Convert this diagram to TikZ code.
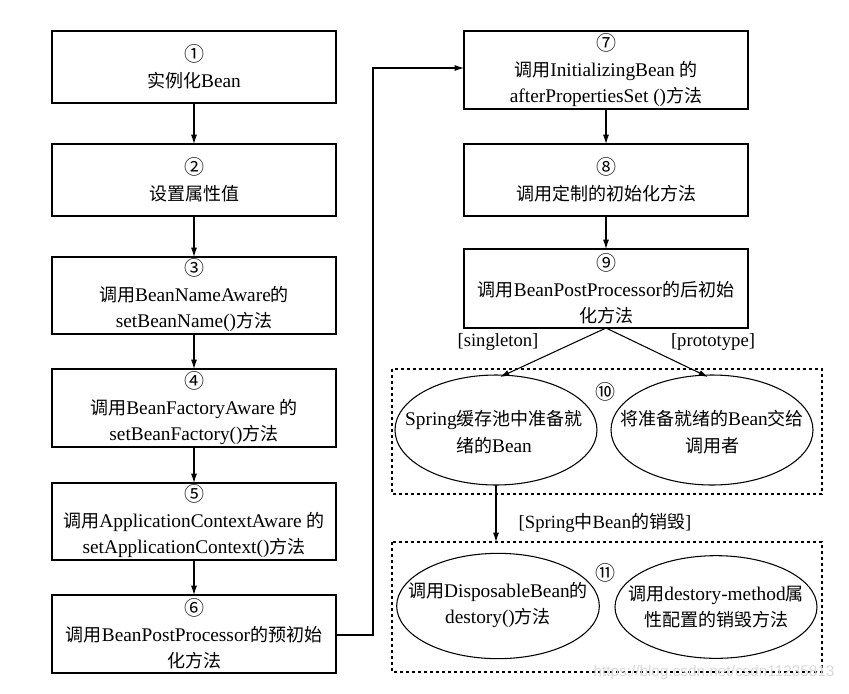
\documentclass[tikz,border=0pt]{standalone}
\usepackage{fontspec}
\setmainfont{Liberation Serif}
\newfontfamily\cjk{Noto Sans CJK SC}
\newfontfamily\wmfont{Liberation Sans}
\usetikzlibrary{arrows.meta,shapes.geometric}
\newcommand{\zh}[1]{{\cjk\fontsize{13.5pt}{19.5pt}\selectfont #1}}
\newcommand{\cn}[1]{{\cjk\fontsize{15pt}{19.5pt}\selectfont #1}}
\begin{document}
\begin{tikzpicture}[x=0.75pt,y=-0.75pt,
  every node/.style={inner sep=0pt,outer sep=0pt},
  box/.style={draw,line width=0.8pt,minimum width=213pt,align=center,font=\fontsize{14.5pt}{19.5pt}\selectfont},
  oval/.style={draw,ellipse,line width=0.8pt},
  otext/.style={align=center,font=\fontsize{14.5pt}{20pt}\selectfont},
  group/.style={draw,dashed,line width=0.8pt,dash pattern=on 2.5pt off 2pt},
  arr/.style={line width=0.8pt,-{Latex[length=7pt,width=4.5pt]}},
  lbl/.style={font=\fontsize{14pt}{16pt}\selectfont}]
\useasboundingbox (0,0) rectangle (849,693);
% left column
\node[box,minimum height=54pt] (b1) at (194,67) {\cn{①}\\\zh{实例化}Bean};
\node[box,minimum height=54pt] (b2) at (194,180) {\cn{②}\\\zh{设置属性值}};
\node[box,minimum height=57.75pt] (b3) at (194,295.5) {\cn{③}\\\zh{调用}BeanNameAware\zh{的}\\setBeanName()\zh{方法}};
\node[box,minimum height=58.5pt] (b4) at (194,408) {\cn{④}\\\zh{调用}BeanFactoryAware \zh{的}\\setBeanFactory()\zh{方法}};
\node[box,minimum height=57.75pt] (b5) at (194,521.5) {\cn{⑤}\\\zh{调用}ApplicationContextAware \zh{的}\\setApplicationContext()\zh{方法}};
\node[box,minimum height=58.5pt] (b6) at (194,634) {\cn{⑥}\\\zh{调用}BeanPostProcessor\zh{的预初始}\\\zh{化方法}};
% right column
\node[box,minimum height=58.5pt] (b7) at (606,70) {\cn{⑦}\\\zh{调用}InitializingBean \zh{的}\\afterPropertiesSet ()\zh{方法}};
\node[box,minimum height=54pt] (b8) at (606,180) {\cn{⑧}\\\zh{调用定制的初始化方法}};
\node[box,minimum height=59.25pt] (b9) at (606,288.5) {\cn{⑨}\\\zh{调用}BeanPostProcessor\zh{的后初始}\\\zh{化方法}};
% arrows left
\draw[arr] (b1) -- (b2);
\draw[arr] (b2) -- (b3);
\draw[arr] (b3) -- (b4);
\draw[arr] (b4) -- (b5);
\draw[arr] (b5) -- (b6);
\coordinate (c1) at (373,635);
\coordinate (c2) at (373,68);
\draw[arr] (b6.east |- c1) -- (c1) -- (c2) -- (b7.west |- c2);
\draw[arr] (b7) -- (b8);
\draw[arr] (b8) -- (b9);
% group 10
\draw[group] (392,369) rectangle (822,494);
\node[oval,minimum width=151.5pt,minimum height=82.5pt] (e1) at (496,430) {};
\node[otext] (e1t) at (494,432) {Spring\zh{缓存池中准备就}\\\zh{绪的}Bean};
\node[oval,minimum width=151.5pt,minimum height=82.5pt] (e2) at (712,430) {};
\node[otext] (e2t) at (712,432) {\zh{将准备就绪的}Bean\zh{交给}\\\zh{调用者}};
\node (n10) at (605,392) {\cn{⑩}};
\coordinate (t1) at (500,377);
\coordinate (t2) at (708,377);
\draw[arr] (b9.south) -- (t1);
\draw[arr] (b9.south) -- (t2);
\node[lbl] (ls) at (498,342) {[singleton]};
\node[lbl] (lp) at (713,342) {[prototype]};
% group 11
\draw[group] (392,542) rectangle (822,672);
\node[oval,minimum width=152pt,minimum height=79pt] (e3) at (498,606) {};
\node[otext] (e3t) at (498,605) {\zh{调用}DisposableBean\zh{的}\\destory()\zh{方法}};
\node[oval,minimum width=151.5pt,minimum height=77pt] (e4) at (716,607) {};
\node[otext] (e4t) at (716,607) {\zh{调用}destory-method\zh{属}\\\zh{性配置的销毁方法}};
\node (n11) at (605,573) {\cn{⑪}};
\coordinate (g11) at (496,542);
\draw[arr] (e1.south) -- (g11);
\node[lbl] (ld) at (605,523) {[Spring\zh{中}Bean\zh{的销毁}]};
% watermark
\node[font=\wmfont\fontsize{11.5pt}{12pt}\selectfont,text=black!15] (wm) at (714,673) {https://blog.csdn.net/csdn11235813};
\end{tikzpicture}
\end{document}
